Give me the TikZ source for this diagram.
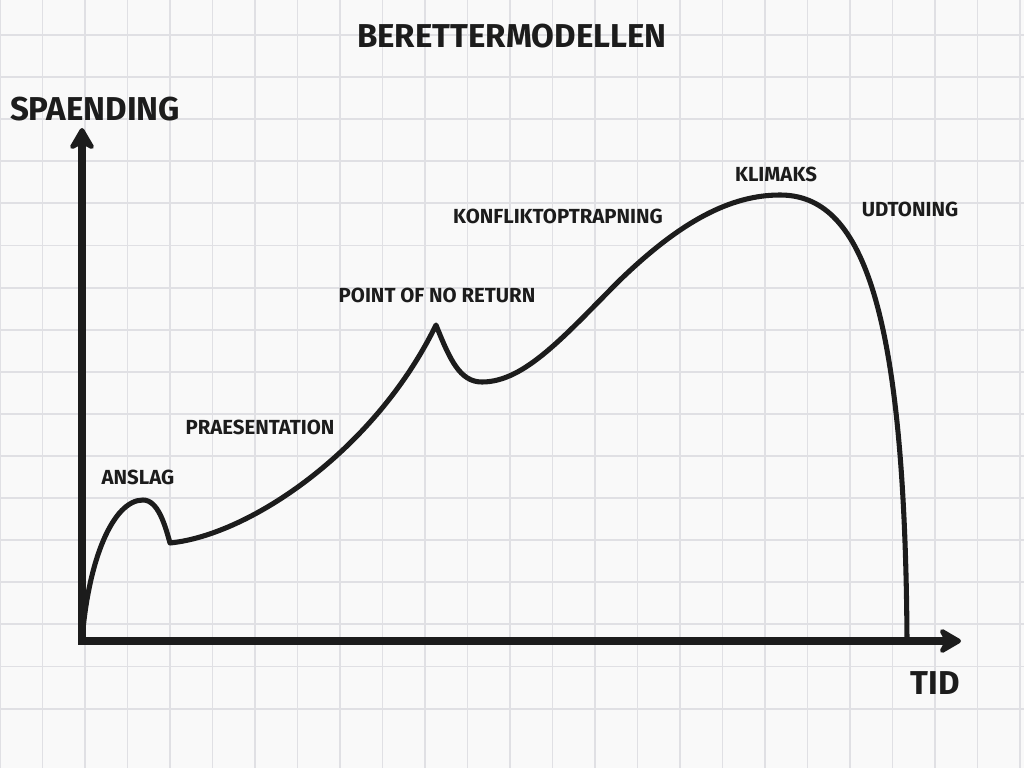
\documentclass[tikz,border=0pt]{standalone}
\usepackage{fontspec}
\setmainfont{Fira Sans}
\usepackage{tikz}
\usetikzlibrary{positioning}
\usetikzlibrary{arrows,arrows.meta}
\definecolor{ink}{RGB}{28,28,28}
\definecolor{paper}{RGB}{249,249,249}
\definecolor{gridgray}{RGB}{224,224,228}
\tikzstyle{heading} = [font=\fontsize{23.5}{28}\selectfont\bfseries, text=ink, inner sep=0pt]
\tikzstyle{phase} = [font=\fontsize{14.5}{17}\selectfont\bfseries, text=ink, inner sep=0pt]
\tikzstyle{axis} = [draw=ink, line width=5pt, line join=miter]
\tikzstyle{story} = [draw=ink, line width=3.6pt, line join=round, line cap=round]
\tikzstyle{gridline} = [draw=gridgray, line width=1.3pt]
\tikzstyle{coord} = [coordinate]

\begin{document}
\begin{tikzpicture}[x=0.025cm, y=-0.025cm, >={Stealth[length=19pt, width=22pt, inset=6pt, round]}]
	\useasboundingbox[fill=paper] (0,0) rectangle (1024,768);
	% squared paper
	\foreach \gx in {0,...,24}
		\draw [gridline] (\gx*42.5,0) -- (\gx*42.5,768);
	\foreach \gy in {0,...,17}
		\draw [gridline] (0,35+\gy*42.1-42.1) -- (1024,35+\gy*42.1-42.1);

	\node [coord] (origin) at (82,641) {};
	\node [coord] (ytip) at (82,128) {};
	\node [coord] (xtip) at (961,641) {};
	\node [coord] (anslagtop) at (143,500) {};
	\node [coord] (anslagdip) at (170,543) {};
	\node [coord] (ponr) at (436,325) {};
	\node [coord] (konfliktdip) at (482,382) {};
	\node [coord] (stigning) at (620,280) {};
	\node [coord] (klimakstop) at (780,195) {};
	\node [coord] (slut) at (907,641) {};

	\node [heading] (titel) at (512,36) {BERETTERMODELLEN};
	\node [heading] (spaending) at (95,109) {SPAENDING};
	\node [heading] (tid) at (935,683) {TID};
	\node [phase] (anslag) at (138,477) {ANSLAG};
	\node [phase] (praesentation) at (260,427) {PRAESENTATION};
	\node [phase] (pointofnoreturn) at (437,295) {POINT OF NO RETURN};
	\node [phase] (konflikt) at (558,216) {KONFLIKTOPTRAPNING};
	\node [phase] (klimaks) at (776,174) {KLIMAKS};
	\node [phase] (udtoning) at (910,209) {UDTONING};

	\draw [axis, <->] (ytip) -- (origin) -- (xtip);
	\draw [story] (origin) .. controls (88,560) and (113,500) .. (anslagtop)
		.. controls (158,500) and (165,525) .. (anslagdip)
		.. controls (250,535) and (375,450) .. (ponr)
		.. controls (450,360) and (460,382) .. (konfliktdip)
		.. controls (525,382) and (565,335) .. (stigning)
		.. controls (680,222) and (730,195) .. (klimakstop)
		.. controls (860,195) and (905,300) .. (slut);
\end{tikzpicture}
\end{document}
